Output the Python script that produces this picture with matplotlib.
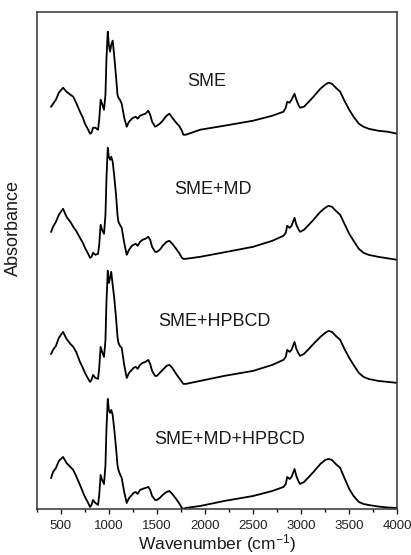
import matplotlib
matplotlib.use("Agg")
import matplotlib.pyplot as plt
from matplotlib.ticker import MultipleLocator, NullLocator

plt.rcParams['font.family'] = ['Liberation Sans', 'DejaVu Sans']
plt.rcParams['mathtext.fontset'] = 'custom'
plt.rcParams['mathtext.rm'] = 'Liberation Sans'
plt.rcParams['mathtext.it'] = 'Liberation Sans:italic'

# FTIR spectra (wavenumber in cm-1, absorbance in a.u.)
wavenumber = [400, 420, 450, 480, 524, 560, 600, 630, 660, 700, 730, 752, 780, 805,
              820, 836, 860, 888, 900, 915, 930, 950, 965, 975, 989, 1000, 1013,
              1025, 1040, 1055, 1075, 1090, 1100, 1115, 1134, 1160, 1186, 1210,
              1240, 1256, 1280, 1300, 1325, 1350, 1380, 1411, 1430, 1450, 1481,
              1500, 1530, 1560, 1600, 1630, 1660, 1700, 1730, 1760, 1775, 1800,
              1950, 2200, 2500, 2700, 2816, 2840, 2855, 2880, 2900, 2931, 2950,
              2975, 2990, 3030, 3080, 3128, 3200, 3250, 3284, 3320, 3360, 3406,
              3450, 3500, 3545, 3600, 3649, 3700, 3800, 3900, 4000]

sme = [0.30, 0.33, 0.37, 0.44, 0.49, 0.45, 0.42, 0.40, 0.34, 0.25, 0.19, 0.13, 0.08, 0.03,
       0.04, 0.09, 0.09, 0.07, 0.17, 0.37, 0.33, 0.27, 0.42, 0.77, 1.05, 0.92, 0.85,
       0.92, 0.96, 0.82, 0.60, 0.42, 0.39, 0.37, 0.33, 0.19, 0.10, 0.15,
       0.18, 0.19, 0.20, 0.18, 0.21, 0.22, 0.23, 0.26, 0.22, 0.15, 0.10,
       0.11, 0.13, 0.16, 0.21, 0.23, 0.19, 0.14, 0.11, 0.06, 0.02, 0.02,
       0.07, 0.11, 0.16, 0.21, 0.25, 0.29, 0.35, 0.34, 0.37, 0.43, 0.37,
       0.31, 0.29, 0.30, 0.35, 0.40, 0.48, 0.52, 0.54, 0.53, 0.49, 0.45,
       0.36, 0.27, 0.20, 0.13, 0.10, 0.08, 0.06, 0.05, 0.03]

sme_md = [0.30, 0.35, 0.40, 0.47, 0.53, 0.45, 0.40, 0.35, 0.31, 0.24, 0.19, 0.14, 0.09, 0.04,
          0.05, 0.09, 0.07, 0.08, 0.17, 0.37, 0.32, 0.28, 0.47, 0.82, 1.14, 1.05, 1.02,
          1.05, 1.00, 0.87, 0.67, 0.47, 0.40, 0.37, 0.34, 0.19, 0.07, 0.12,
          0.16, 0.17, 0.18, 0.16, 0.20, 0.22, 0.23, 0.25, 0.22, 0.15, 0.10,
          0.10, 0.12, 0.16, 0.20, 0.21, 0.18, 0.13, 0.09, 0.04, 0.03, 0.03,
          0.05, 0.095, 0.15, 0.21, 0.26, 0.29, 0.36, 0.34, 0.36, 0.44, 0.37,
          0.32, 0.30, 0.32, 0.37, 0.42, 0.50, 0.54, 0.56, 0.55, 0.51, 0.47,
          0.38, 0.28, 0.21, 0.13, 0.09, 0.07, 0.05, 0.035, 0.02]

sme_hpbcd = [0.32, 0.36, 0.40, 0.48, 0.54, 0.47, 0.42, 0.39, 0.34, 0.24, 0.18, 0.13, 0.08, 0.04,
             0.06, 0.11, 0.08, 0.07, 0.18, 0.39, 0.34, 0.29, 0.46, 0.83, 1.15, 1.03, 1.08,
             1.14, 1.01, 0.89, 0.68, 0.49, 0.43, 0.40, 0.38, 0.21, 0.08, 0.13,
             0.16, 0.18, 0.19, 0.17, 0.21, 0.23, 0.24, 0.26, 0.22, 0.15, 0.10,
             0.10, 0.13, 0.16, 0.20, 0.21, 0.18, 0.12, 0.08, 0.04, 0.02, 0.02,
             0.05, 0.10, 0.15, 0.21, 0.26, 0.29, 0.36, 0.34, 0.36, 0.44, 0.37,
             0.32, 0.30, 0.32, 0.37, 0.42, 0.49, 0.53, 0.55, 0.54, 0.50, 0.46,
             0.37, 0.28, 0.21, 0.13, 0.09, 0.07, 0.05, 0.04, 0.03]

sme_md_hpbcd = [0.31, 0.37, 0.41, 0.48, 0.52, 0.46, 0.42, 0.39, 0.33, 0.24, 0.17, 0.12, 0.07, 0.02,
                0.04, 0.09, 0.06, 0.04, 0.14, 0.34, 0.29, 0.25, 0.44, 0.79, 1.10, 0.99, 0.96,
                0.99, 0.94, 0.81, 0.61, 0.44, 0.39, 0.35, 0.31, 0.17, 0.06, 0.11,
                0.14, 0.16, 0.17, 0.15, 0.19, 0.20, 0.21, 0.22, 0.19, 0.13, 0.09,
                0.09, 0.11, 0.14, 0.17, 0.18, 0.15, 0.10, 0.06, 0.01, 0.00, 0.01,
                0.03, 0.08, 0.13, 0.18, 0.22, 0.25, 0.32, 0.30, 0.32, 0.40, 0.33,
                0.27, 0.25, 0.27, 0.32, 0.37, 0.45, 0.49, 0.50, 0.49, 0.45, 0.41,
                0.31, 0.20, 0.13, 0.07, 0.05, 0.04, 0.025, 0.015, 0.01]

sample_names = ['SME', 'SME+MD', 'SME+HPBCD', 'SME+MD+HPBCD']
stack_offsets = [3.72, 2.47, 1.23, 0.0]
label_positions = [(2022, 4.27), (2085, 3.19), (2095, 1.87), (2261, 0.69)]

spectra = [sme, sme_md, sme_hpbcd, sme_md_hpbcd]

fig = plt.figure(figsize=(4.11, 5.55), dpi=100)
ax = fig.add_axes([0.0893, 0.0829, 0.8774, 0.8961])

for name, vals, off, (lx, ly) in zip(sample_names, spectra, stack_offsets, label_positions):
    ax.plot(wavenumber, [v + off for v in vals], color='black', lw=1.3,
            solid_joinstyle='round')
    ax.text(lx, ly, name, ha='center', va='center', fontsize=13, color='#1a1a1a')

ax.set_xlim(250, 4000)
ax.set_ylim(0, 4.97)

ax.xaxis.set_major_locator(MultipleLocator(500))
ax.xaxis.set_minor_locator(MultipleLocator(250))
ax.set_xticks(range(500, 4001, 500))
ax.yaxis.set_major_locator(NullLocator())
ax.yaxis.set_minor_locator(NullLocator())
ax.tick_params(axis='x', which='major', direction='out', length=3.5, width=1.0,
               pad=4.5, labelsize=9.5, colors='#222222', top=False)
ax.tick_params(axis='x', which='minor', direction='out', length=2.2, width=1.0, top=False)

for sp in ax.spines.values():
    sp.set_color('#333333')
    sp.set_linewidth(1.1)

ax.set_xlabel(r'Wavenumber (cm$^{-1}$)', fontsize=12.5, labelpad=0, color='#1a1a1a')
ax.set_ylabel('Absorbance', fontsize=13, color='#1a1a1a')
ax.yaxis.set_label_coords(-0.04, 0.565)

fig.savefig('out.png', dpi=100)
